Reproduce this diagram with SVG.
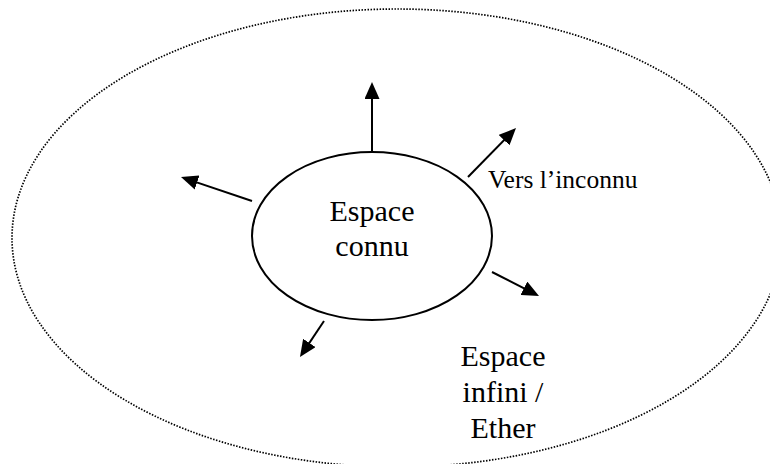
<svg xmlns="http://www.w3.org/2000/svg" width="770" height="464" viewBox="0 0 770 464">
  <style>
    .t { font-family: "Liberation Serif", "Times New Roman", serif; fill: #000; }
    .big { font-size: 30px; text-anchor: middle; }
    .small { font-size: 25.5px; }
    .conn line { stroke: #000; stroke-width: 2; fill: none; }
  </style>
  <defs>
    <marker id="ah" viewBox="0 0 17 15" refX="9" refY="7.5" markerWidth="17" markerHeight="15" markerUnits="userSpaceOnUse" orient="auto">
      <path d="M0,0 L17,7.5 L0,15 z" fill="#000"/>
    </marker>
  </defs>
  <rect width="770" height="464" fill="#fff"/>
  <g id="ether">
    <ellipse cx="397" cy="238" rx="385" ry="229" fill="none" stroke="#000" stroke-width="1.7" stroke-dasharray="1.5 1.5"/>
    <text class="t big" x="503" y="366">Espace</text>
    <text class="t big" x="503" y="402">infini /</text>
    <text class="t big" x="503" y="438">Ether</text>
  </g>
  <g id="connu">
    <ellipse cx="372" cy="236" rx="120" ry="84" fill="#fff" stroke="#000" stroke-width="2"/>
    <text class="t big" x="372" y="221">Espace</text>
    <text class="t big" x="372" y="256">connu</text>
  </g>
  <g id="label-inconnu">
    <text class="t small" x="488" y="188">Vers l’inconnu</text>
  </g>
  <g class="conn" id="connectors">
    <line x1="372" y1="152" x2="372" y2="90" marker-end="url(#ah)"/>
    <line x1="468" y1="177" x2="510.4" y2="133.7" marker-end="url(#ah)"/>
    <line x1="252" y1="201" x2="188.6" y2="179.6" marker-end="url(#ah)"/>
    <line x1="492" y1="272" x2="531.9" y2="292.4" marker-end="url(#ah)"/>
    <line x1="324" y1="321" x2="304.4" y2="350.4" marker-end="url(#ah)"/>
  </g>
</svg>
